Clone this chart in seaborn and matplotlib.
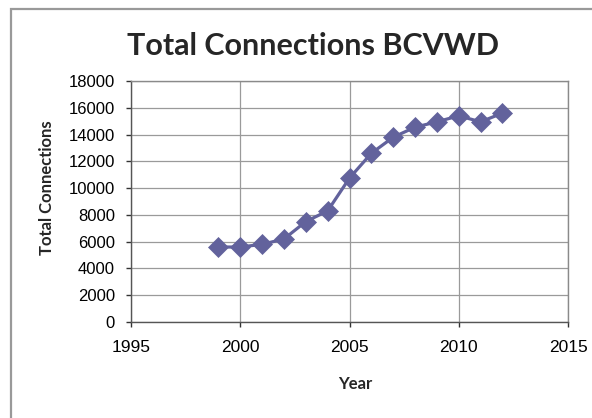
import matplotlib
matplotlib.use("Agg")
import matplotlib.pyplot as plt
import seaborn as sns
import pandas as pd
from matplotlib.patches import Rectangle

years = [1999, 2000, 2001, 2002, 2003, 2004, 2005, 2006, 2007, 2008, 2009, 2010, 2011, 2012]
connections = [5600, 5600, 5800, 6200, 7500, 8300, 10750, 12600, 13800, 14550, 14950, 15400, 14950, 15600]
x_ticks = [1995, 2000, 2005, 2010, 2015]
y_ticks = [0, 2000, 4000, 6000, 8000, 10000, 12000, 14000, 16000, 18000]

df = pd.DataFrame({"Year": years, "Total Connections": connections})

sns.set_theme(style="white")
plt.rcParams['font.family'] = ['Liberation Sans', 'DejaVu Sans']

fig = plt.figure(figsize=(5.92, 4.18), dpi=100)
fig.patches.append(Rectangle((11/592, -0.1), 1.2, 1 - 9/418 + 0.1, transform=fig.transFigure,
                             fill=False, edgecolor="#999999", linewidth=1.6))
ax = fig.add_axes([131/592, (418-322)/418, (568-131)/592, (322-81)/418])

color = "#62629c"
sns.lineplot(data=df, x="Year", y="Total Connections", ax=ax, color=color, linewidth=2.3,
             marker="D", markersize=10.5, markeredgecolor=color, markeredgewidth=0.5)

ax.set_xlim(1995, 2015)
ax.set_ylim(0, 18000)
ax.set_xticks(x_ticks)
ax.set_yticks(y_ticks)
ax.set_xticklabels([str(t) for t in x_ticks], fontsize=12.5)
ax.set_yticklabels([str(t) for t in y_ticks], fontsize=12)
ax.grid(True, color="#9a9a9a", linewidth=0.9)
for s in ax.spines.values():
    s.set_color("#8a8a8a")
    s.set_linewidth(1.0)
ax.spines["left"].set_color("#555555")
ax.spines["bottom"].set_color("#555555")
ax.tick_params(axis="both", direction="out", length=3.6, width=1, color="#333333",
               left=True, bottom=True, labelcolor="black")
ax.tick_params(axis="y", pad=8)
ax.tick_params(axis="x", pad=9)

ax.set_xlabel("Year", fontsize=12, fontweight="bold", family=["Lato", "DejaVu Sans"])
ax.set_ylabel("Total Connections", fontsize=12, fontweight="bold", family=["Lato", "DejaVu Sans"])
ax.xaxis.set_label_coords((355-131)/437, -(384-322)/241)
ax.yaxis.set_label_coords(-(131-46.5)/437, (322-187.5)/241)
ax.xaxis.label.set_va("center")
ax.yaxis.label.set_va("center")
fig.text(313/592, 1 - 46/418, "Total Connections BCVWD", ha="center", va="center",
         fontsize=22, fontweight="bold", family=["Lato", "DejaVu Sans"])

fig.savefig("out.png", dpi=100, facecolor="white")
